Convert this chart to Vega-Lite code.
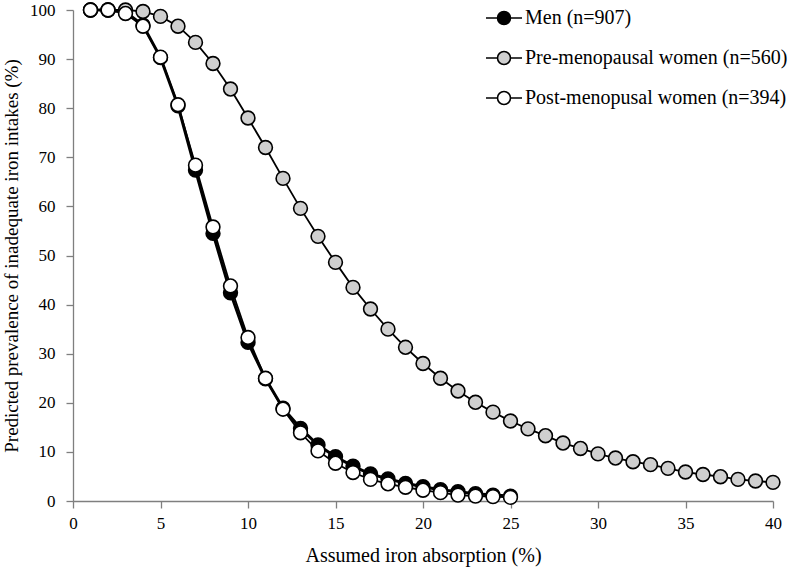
{
  "$schema": "https://vega.github.io/schema/vega-lite/v6.json",
  "width": 700,
  "height": 491,
  "autosize": "none",
  "padding": {"left": 73, "top": 10, "right": 18, "bottom": 66},
  "background": "white",
  "config": {
    "view": {"stroke": null},
    "font": "Liberation Serif",
    "axis": {"grid": false, "domainColor": "#7f7f7f", "tickColor": "#7f7f7f", "labelColor": "black", "titleColor": "black", "labelFont": "Liberation Serif", "titleFont": "Liberation Serif", "titleFontWeight": "normal", "tickSize": 7, "domainWidth": 1.3, "tickWidth": 1.3}
  },
  "data": {"values": [
    {"s": "Men (n=907)", "x": 1, "y": 100}, {"s": "Men (n=907)", "x": 2, "y": 100}, {"s": "Men (n=907)", "x": 3, "y": 99.6}, {"s": "Men (n=907)", "x": 4, "y": 96.9}, {"s": "Men (n=907)", "x": 5, "y": 90.3}, {"s": "Men (n=907)", "x": 6, "y": 80.5}, {"s": "Men (n=907)", "x": 7, "y": 67.4}, {"s": "Men (n=907)", "x": 8, "y": 54.5}, {"s": "Men (n=907)", "x": 9, "y": 42.4}, {"s": "Men (n=907)", "x": 10, "y": 32.3}, {"s": "Men (n=907)", "x": 11, "y": 24.9}, {"s": "Men (n=907)", "x": 12, "y": 18.9}, {"s": "Men (n=907)", "x": 13, "y": 14.8}, {"s": "Men (n=907)", "x": 14, "y": 11.4}, {"s": "Men (n=907)", "x": 15, "y": 9.0}, {"s": "Men (n=907)", "x": 16, "y": 7.1}, {"s": "Men (n=907)", "x": 17, "y": 5.5}, {"s": "Men (n=907)", "x": 18, "y": 4.5}, {"s": "Men (n=907)", "x": 19, "y": 3.6}, {"s": "Men (n=907)", "x": 20, "y": 2.9}, {"s": "Men (n=907)", "x": 21, "y": 2.3}, {"s": "Men (n=907)", "x": 22, "y": 1.9}, {"s": "Men (n=907)", "x": 23, "y": 1.5}, {"s": "Men (n=907)", "x": 24, "y": 1.2}, {"s": "Men (n=907)", "x": 25, "y": 1.0},
    {"s": "Pre-menopausal women (n=560)", "x": 1, "y": 100}, {"s": "Pre-menopausal women (n=560)", "x": 2, "y": 100}, {"s": "Pre-menopausal women (n=560)", "x": 3, "y": 100}, {"s": "Pre-menopausal women (n=560)", "x": 4, "y": 99.7}, {"s": "Pre-menopausal women (n=560)", "x": 5, "y": 98.7}, {"s": "Pre-menopausal women (n=560)", "x": 6, "y": 96.7}, {"s": "Pre-menopausal women (n=560)", "x": 7, "y": 93.4}, {"s": "Pre-menopausal women (n=560)", "x": 8, "y": 89.1}, {"s": "Pre-menopausal women (n=560)", "x": 9, "y": 83.9}, {"s": "Pre-menopausal women (n=560)", "x": 10, "y": 78.0}, {"s": "Pre-menopausal women (n=560)", "x": 11, "y": 72.0}, {"s": "Pre-menopausal women (n=560)", "x": 12, "y": 65.7}, {"s": "Pre-menopausal women (n=560)", "x": 13, "y": 59.6}, {"s": "Pre-menopausal women (n=560)", "x": 14, "y": 53.9}, {"s": "Pre-menopausal women (n=560)", "x": 15, "y": 48.6}, {"s": "Pre-menopausal women (n=560)", "x": 16, "y": 43.5}, {"s": "Pre-menopausal women (n=560)", "x": 17, "y": 39.1}, {"s": "Pre-menopausal women (n=560)", "x": 18, "y": 35.0}, {"s": "Pre-menopausal women (n=560)", "x": 19, "y": 31.3}, {"s": "Pre-menopausal women (n=560)", "x": 20, "y": 28.0}, {"s": "Pre-menopausal women (n=560)", "x": 21, "y": 25.0}, {"s": "Pre-menopausal women (n=560)", "x": 22, "y": 22.4}, {"s": "Pre-menopausal women (n=560)", "x": 23, "y": 20.1}, {"s": "Pre-menopausal women (n=560)", "x": 24, "y": 18.1}, {"s": "Pre-menopausal women (n=560)", "x": 25, "y": 16.3}, {"s": "Pre-menopausal women (n=560)", "x": 26, "y": 14.7}, {"s": "Pre-menopausal women (n=560)", "x": 27, "y": 13.3}, {"s": "Pre-menopausal women (n=560)", "x": 28, "y": 11.8}, {"s": "Pre-menopausal women (n=560)", "x": 29, "y": 10.7}, {"s": "Pre-menopausal women (n=560)", "x": 30, "y": 9.6}, {"s": "Pre-menopausal women (n=560)", "x": 31, "y": 8.75}, {"s": "Pre-menopausal women (n=560)", "x": 32, "y": 8.0}, {"s": "Pre-menopausal women (n=560)", "x": 33, "y": 7.4}, {"s": "Pre-menopausal women (n=560)", "x": 34, "y": 6.65}, {"s": "Pre-menopausal women (n=560)", "x": 35, "y": 5.9}, {"s": "Pre-menopausal women (n=560)", "x": 36, "y": 5.4}, {"s": "Pre-menopausal women (n=560)", "x": 37, "y": 4.95}, {"s": "Pre-menopausal women (n=560)", "x": 38, "y": 4.4}, {"s": "Pre-menopausal women (n=560)", "x": 39, "y": 4.07}, {"s": "Pre-menopausal women (n=560)", "x": 40, "y": 3.8},
    {"s": "Post-menopusal women (n=394)", "x": 1, "y": 100}, {"s": "Post-menopusal women (n=394)", "x": 2, "y": 100}, {"s": "Post-menopusal women (n=394)", "x": 3, "y": 99.3}, {"s": "Post-menopusal women (n=394)", "x": 4, "y": 96.7}, {"s": "Post-menopusal women (n=394)", "x": 5, "y": 90.4}, {"s": "Post-menopusal women (n=394)", "x": 6, "y": 80.7}, {"s": "Post-menopusal women (n=394)", "x": 7, "y": 68.4}, {"s": "Post-menopusal women (n=394)", "x": 8, "y": 55.8}, {"s": "Post-menopusal women (n=394)", "x": 9, "y": 43.8}, {"s": "Post-menopusal women (n=394)", "x": 10, "y": 33.3}, {"s": "Post-menopusal women (n=394)", "x": 11, "y": 25.0}, {"s": "Post-menopusal women (n=394)", "x": 12, "y": 18.7}, {"s": "Post-menopusal women (n=394)", "x": 13, "y": 13.9}, {"s": "Post-menopusal women (n=394)", "x": 14, "y": 10.2}, {"s": "Post-menopusal women (n=394)", "x": 15, "y": 7.7}, {"s": "Post-menopusal women (n=394)", "x": 16, "y": 5.8}, {"s": "Post-menopusal women (n=394)", "x": 17, "y": 4.4}, {"s": "Post-menopusal women (n=394)", "x": 18, "y": 3.5}, {"s": "Post-menopusal women (n=394)", "x": 19, "y": 2.8}, {"s": "Post-menopusal women (n=394)", "x": 20, "y": 2.2}, {"s": "Post-menopusal women (n=394)", "x": 21, "y": 1.7}, {"s": "Post-menopusal women (n=394)", "x": 22, "y": 1.2}, {"s": "Post-menopusal women (n=394)", "x": 23, "y": 1.0}, {"s": "Post-menopusal women (n=394)", "x": 24, "y": 0.9}, {"s": "Post-menopusal women (n=394)", "x": 25, "y": 0.75}
  ]},
  "encoding": {
    "x": {"field": "x", "type": "quantitative", "scale": {"domain": [0, 40], "nice": false, "zero": false}, "axis": {"values": [0, 5, 10, 15, 20, 25, 30, 35, 40], "title": "Assumed iron absorption (%)", "labelFontSize": 17, "titleFontSize": 20, "labelPadding": 7, "titlePadding": 14, "labelFlush": false}},
    "y": {"field": "y", "type": "quantitative", "scale": {"domain": [0, 100], "nice": false}, "axis": {"values": [0, 10, 20, 30, 40, 50, 60, 70, 80, 90, 100], "title": "Predicted prevalence of inadequate iron intakes (%)", "labelFontSize": 17, "titleFontSize": 19, "labelPadding": 11, "titlePadding": 8, "labelFlush": false}}
  },
  "layer": [
    {
      "transform": [{"filter": "datum.s !== 'Men (n=907)'"}],
      "mark": {"type": "line", "color": "black", "strokeWidth": 1.8},
      "encoding": {"detail": {"field": "s"}}
    },
    {
      "transform": [{"filter": "datum.s === 'Men (n=907)'"}],
      "mark": {"type": "line", "color": "black", "strokeWidth": 3},
      "encoding": {}
    },
    {
      "mark": {"type": "point", "shape": "circle", "filled": true, "size": 190, "stroke": "black", "strokeWidth": 1.6, "opacity": 1},
      "encoding": {
        "fill": {"field": "s", "type": "nominal", "sort": null, "scale": {"domain": ["Men (n=907)", "Pre-menopausal women (n=560)", "Post-menopusal women (n=394)"], "range": ["black", "#cfcfcf", "white"]},
          "legend": {"title": null, "orient": "none", "legendX": 412, "legendY": -11, "padding": 0, "symbolType": "M-1,0H-0.36M0.36,0H1M-0.36,0A0.36,0.36,0,1,1,0.36,0A0.36,0.36,0,1,1,-0.36,0Z", "symbolSize": 1296, "symbolStrokeColor": "black", "symbolStrokeWidth": 1.6, "symbolOpacity": 1, "labelFont": "Liberation Serif", "labelFontSize": 20, "labelColor": "black", "labelOffset": 2, "rowPadding": 11, "labelLimit": 400}
        }
      }
    }
  ]
}
